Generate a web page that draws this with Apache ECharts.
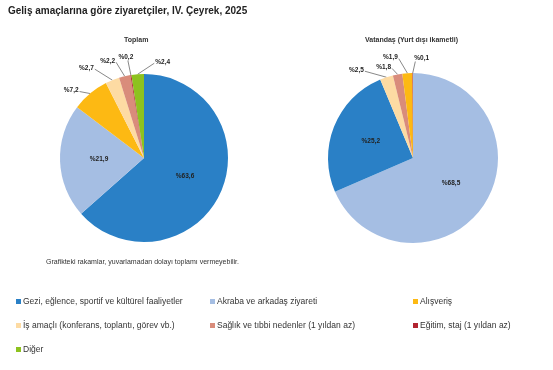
<!DOCTYPE html>
<html><head><meta charset="utf-8">
<script src="https://cdn.jsdelivr.net/npm/echarts@6/dist/echarts.min.js"></script>
<style>html,body{margin:0;padding:0;background:#fff}#c{width:553px;height:370px}</style>
</head><body><div id="c"></div>
<script>
const categories = ["Gezi, eğlence, sportif ve kültürel faaliyetler","Akraba ve arkadaş ziyareti","Alışveriş","İş amaçlı (konferans, toplantı, görev vb.)","Sağlık ve tıbbi nedenler (1 yıldan az)","Eğitim, staj (1 yıldan az)","Diğer"];
const colors = ["#2A80C6","#A5BEE3","#FDB913","#FDDBA3","#D98C7B","#B22430","#8DC21F"];
const toplamOrder = [0,1,2,3,4,5,6];
const toplamValues = [63.6,21.9,7.2,2.7,2.2,0.2,2.4];
const vatandasOrder = [1,0,3,4,2,5];
const vatandasValues = [68.5,25.2,2.5,1.8,1.9,0.1];
const title = "Geliş amaçlarına göre ziyaretçiler, IV. Çeyrek, 2025";
const subTitles = ["Toplam","Vatandaş (Yurt dışı ikametli)"];
const note = "Grafikteki rakamlar, yuvarlamadan dolayı toplamı vermeyebilir.";

// label offsets (style): from slice edge anchor to label centre, per series / slice index
const labelOffsets = [
  [null, null, [-19,-3], [-26,-12], [-17,-15], [-5,-18], [25,-12]],
  [null, null, [-30,-7], [-14,-7], [-17,-15.5], [9,-15]]
];

const fmt = v => '%' + v.toFixed(1).replace('.', ',');
function buildData(order, values){
  return order.map((ci,i)=>{
    const v = values[i];
    const big = v > 10;
    return {
      name: categories[ci], value: v,
      itemStyle:{color: colors[ci]},
      label: big ? {position:'inside'} : {position:'outside'},
      labelLine: {show: !big}
    };
  });
}
function layoutFn(params){
  const off = labelOffsets[params.seriesIndex][params.dataIndex];
  if (!off || !params.labelLinePoints) return {};
  const a = params.labelLinePoints[0];
  const cx = a[0] + off[0], cy = a[1] + off[1];
  const w = params.labelRect.width, h = params.labelRect.height;
  let end;
  if (Math.abs(off[0]) > 10) {
    end = [cx + (off[0] < 0 ? (w/2 + 1) : -(w/2 + 1)), cy + 1];
  } else {
    end = [cx + (off[0] > 0 ? -w/2 + 1 : 2), cy + h/2];
  }
  return {x: cx, y: cy, align:'center', verticalAlign:'middle', labelLinePoints:[a, end]};
}
const labelStyle = {formatter: p => fmt(p.value), fontSize: 6.5, fontWeight:'bold', color:'#222', fontFamily:'Liberation Sans, Arial'};
const chart = echarts.init(document.getElementById('c'), null, {renderer:'canvas'});
const legendCommon = {orient:'vertical', icon:'rect', itemWidth:5, itemHeight:5, itemGap:15,
  textStyle:{fontSize:8.5, color:'#333', fontFamily:'Liberation Sans, Arial', padding:[0,0,0,-3]}};
chart.setOption({
  animation:false,
  title:[
    {text:title, left:4, top:2, padding:[4,4,4,4], textStyle:{fontSize:10, fontWeight:'bold', color:'#222', fontFamily:'Liberation Sans, Arial'}},
    {text:subTitles[0], left:119, top:32, textStyle:{fontSize:7, fontWeight:'bold', color:'#333', fontFamily:'Liberation Sans, Arial'}},
    {text:subTitles[1], left:360, top:32, textStyle:{fontSize:7, fontWeight:'bold', color:'#333', fontFamily:'Liberation Sans, Arial'}},
    {text:note, left:41, top:254, textStyle:{fontSize:7, fontWeight:'normal', color:'#333', fontFamily:'Liberation Sans, Arial'}}
  ],
  legend:[
    Object.assign({left:11, top:292, data:[categories[0],categories[3],categories[6]]}, legendCommon),
    Object.assign({left:205, top:292, data:[categories[1],categories[4]]}, legendCommon),
    Object.assign({left:408, top:292, data:[categories[2],categories[5]]}, legendCommon)
  ],
  series:[
    {type:'pie', center:[144,158], radius:[0,84], startAngle:90, clockwise:true, avoidLabelOverlap:false,
     label:labelStyle, labelLine:{length:8, length2:6, lineStyle:{color:'#555', width:0.7}},
     labelLayout: layoutFn,
     data: buildData(toplamOrder, toplamValues)},
    {type:'pie', center:[413,158], radius:[0,85], startAngle:90, clockwise:true, avoidLabelOverlap:false,
     label:labelStyle, labelLine:{length:8, length2:6, lineStyle:{color:'#555', width:0.7}},
     labelLayout: layoutFn,
     data: buildData(vatandasOrder, vatandasValues)}
  ]
});
</script></body></html>
